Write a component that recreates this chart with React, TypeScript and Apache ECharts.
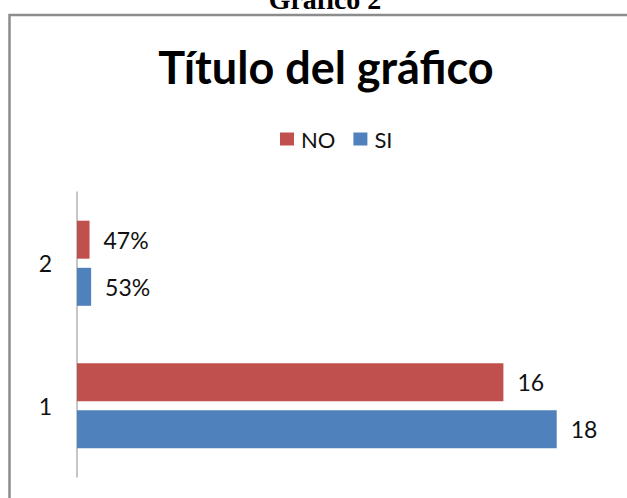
import React, { useEffect, useRef } from "react";
import * as echarts from "echarts";

const categories = ["1", "2"];
const seriesNames = ["NO", "SI"];
const noValues = [16, 0.47];
const siValues = [18, 0.53];
const colors = ["#C0504D", "#4F81BD"];
const pageTitle = "Gráfico 2";
const chartTitle = "Título del gráfico";

const fmt = (v: number) => (v < 1 ? Math.round(v * 100) + "%" : String(v));

export default function App() {
  const ref = useRef<HTMLDivElement>(null);
  useEffect(() => {
    const chart = echarts.init(ref.current!, null, { renderer: "svg" });
    const labelCfg = {
      show: true,
      position: "right" as const,
      distance: 14,
      color: "#111",
      fontFamily: "Lato",
      fontSize: 23,
      formatter: (p: any) => fmt(p.value),
    };
    chart.setOption({
      animation: false,
      backgroundColor: "#fff",
      graphic: [
        {
          type: "rect",
          shape: { x: 9.5, y: 15, width: 800, height: 700 },
          style: { fill: "none", stroke: "#8c8c8c", lineWidth: 2.5 },
          silent: true,
        },
        {
          type: "text",
          x: 325,
          y: -1,
          style: {
            text: pageTitle,
            fontFamily: "Liberation Serif",
            fontWeight: "bold",
            fontSize: 28,
            fill: "#000",
            align: "center",
            verticalAlign: "middle",
          },
        },
        {
          type: "text",
          x: 326,
          y: 67,
          style: {
            text: chartTitle,
            fontFamily: "Lato",
            fontWeight: "bold",
            fontSize: 45,
            fill: "#000",
            align: "center",
            verticalAlign: "middle",
          },
        },
      ],
      legend: {
        data: seriesNames,
        left: 275,
        top: 123,
        itemWidth: 14,
        itemHeight: 13,
        itemGap: 18,
        icon: "rect",
        textStyle: {
          fontFamily: "Lato",
          fontSize: 22,
          color: "#111",
          padding: [0, 0, 0, 2],
        },
      },
      grid: { left: 77, right: 17, top: 192, bottom: 21, containLabel: false },
      xAxis: {
        type: "value",
        min: 0,
        max: 20,
        show: false,
        splitLine: { show: false },
      },
      yAxis: {
        type: "category",
        data: categories,
        axisLine: { show: true, lineStyle: { color: "#b3b3b3", width: 1.5 } },
        axisTick: { show: false },
        axisLabel: {
          margin: 25,
          fontFamily: "Lato",
          fontSize: 23,
          color: "#111",
        },
        splitLine: { show: false },
      },
      series: [
        {
          name: seriesNames[0],
          type: "bar",
          data: noValues,
          barWidth: 38,
          barGap: "24%",
          itemStyle: { color: colors[0] },
          label: labelCfg,
        },
        {
          name: seriesNames[1],
          type: "bar",
          data: siValues,
          barWidth: 38,
          barGap: "24%",
          itemStyle: { color: colors[1] },
          label: labelCfg,
        },
      ],
    });
    return () => chart.dispose();
  }, []);
  return (
    <div
      ref={ref}
      style={{ position: "fixed", left: 0, top: 0, width: 627, height: 498 }}
    />
  );
}
